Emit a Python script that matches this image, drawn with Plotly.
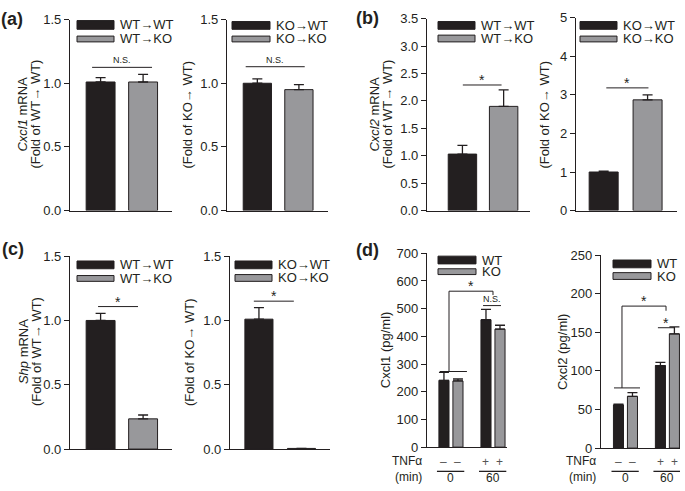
import plotly.graph_objects as go

W, H = 685, 491
FONT = "Liberation Sans, Arial, sans-serif"
DARK = "#231f20"
GRAY = "#98989b"

# ---------------- data ----------------
a1_groups = ["WT→WT", "WT→KO"]
a1_mean = [1.01, 1.01]
a1_err = [0.035, 0.06]

a2_groups = ["KO→WT", "KO→KO"]
a2_mean = [1.0, 0.95]
a2_err = [0.035, 0.04]

b1_groups = ["WT→WT", "WT→KO"]
b1_mean = [1.03, 1.9]
b1_err = [0.16, 0.3]

b2_groups = ["KO→WT", "KO→KO"]
b2_mean = [1.0, 2.87]
b2_err = [0.02, 0.13]

c1_groups = ["WT→WT", "WT→KO"]
c1_mean = [1.0, 0.235]
c1_err = [0.055, 0.03]

c2_groups = ["KO→WT", "KO→KO"]
c2_mean = [1.01, 0.005]
c2_err = [0.09, 0.0]

d_series = ["WT", "KO"]
d_times = ["0", "60"]
d_tnf = ["–", "+"]
d1_wt_mean = [241, 460]
d1_wt_err = [29, 37]
d1_ko_mean = [239, 426]
d1_ko_err = [7, 14]
d2_wt_mean = [56, 107]
d2_wt_err = [1, 4]
d2_ko_mean = [67, 148]
d2_ko_err = [5, 9]

# significance line heights (data units)
a1_sig = 1.125
a2_sig = 1.13
b1_sig = 2.29
b2_sig = 3.18
c1_sig = 1.108
c2_sig = 1.15
d1_bracket = [273, 563, 549]   # low line, top line, right drop
d1_ns = 511
d2_bracket = [78, 184, 178]
d2_sig = 156

# ---------------- layout helpers ----------------
def fx(p):
    return p / W

def fy(p):
    return 1 - p / H

fig = go.Figure()
shapes = []
annos = []

panels = {
    1: dict(x=(70, 172), y=(13, 210), xr=[-0.72, 1.68], yr=[0, 1.5], dt=0.5, tf=".1f"),
    2: dict(x=(227, 328), y=(13, 210), xr=[-0.73, 1.70], yr=[0, 1.5], dt=0.5, tf=".1f"),
    3: dict(x=(427, 530), y=(12, 210), xr=[-0.86, 1.64], yr=[0, 3.5], dt=0.5, tf=".1f"),
    4: dict(x=(576, 677), y=(11, 210), xr=[-0.63, 1.67], yr=[0, 5], dt=1, tf="d"),
    5: dict(x=(70, 172), y=(257, 456), xr=[-0.72, 1.68], yr=[0, 1.5], dt=0.5, tf=".1f"),
    6: dict(x=(230, 330), y=(257, 456), xr=[-0.68, 1.67], yr=[0, 1.5], dt=0.5, tf=".1f"),
    7: dict(x=(427, 507), y=(254, 454), xr=[-1.21, 4.5], yr=[0, 700], dt=100, tf="d"),
    8: dict(x=(601, 680), y=(256, 455), xr=[-1.25, 4.4], yr=[0, 250], dt=50, tf="d"),
}

for i, p in panels.items():
    sx = "" if i == 1 else str(i)
    fig.layout["xaxis" + sx] = dict(
        domain=[fx(p["x"][0]), fx(p["x"][1])], range=p["xr"], anchor="y" + sx,
        showline=True, linecolor=DARK, linewidth=1.3, showgrid=False,
        zeroline=False, showticklabels=False, ticks="", fixedrange=True)
    fig.layout["yaxis" + sx] = dict(
        domain=[fy(p["y"][1]), fy(p["y"][0])], range=p["yr"], anchor="x" + sx,
        showline=True, linecolor=DARK, linewidth=1.3, showgrid=False,
        zeroline=False, ticks="outside", ticklen=5, tickwidth=1.3, tickcolor=DARK,
        dtick=p["dt"], tick0=0, tickformat=p["tf"],
        tickfont=dict(family=FONT, size=13, color=DARK), fixedrange=True)


def err_cfg(vals):
    return dict(type="data", symmetric=False, array=vals,
                arrayminus=[0] * len(vals), color=DARK, thickness=1.3, width=5)


def two_bar(i, groups, mean, err, width):
    sx = "" if i == 1 else str(i)
    fig.add_trace(go.Bar(
        x=list(range(len(groups))), y=mean, width=width,
        marker=dict(color=[DARK, GRAY], line=dict(color=DARK, width=1)),
        error_y=err_cfg(err), xaxis="x" + sx, yaxis="y" + sx,
        showlegend=False, name=" / ".join(groups)))


two_bar(1, a1_groups, a1_mean, a1_err, 0.68)
two_bar(2, a2_groups, a2_mean, a2_err, 0.68)
two_bar(3, b1_groups, b1_mean, b1_err, 0.69)
two_bar(4, b2_groups, b2_mean, b2_err, 0.66)
two_bar(5, c1_groups, c1_mean, c1_err, 0.68)
two_bar(6, c2_groups, c2_mean, c2_err, 0.66)


def grouped(i, wt_m, wt_e, ko_m, ko_e):
    sx = str(i)
    xs_wt = [g * 3 for g in range(len(d_times))]
    xs_ko = [g * 3 + 1 for g in range(len(d_times))]
    for xs, m, e, c, nm in [(xs_wt, wt_m, wt_e, DARK, d_series[0]),
                            (xs_ko, ko_m, ko_e, GRAY, d_series[1])]:
        fig.add_trace(go.Bar(
            x=xs, y=m, width=0.72, name=nm,
            marker=dict(color=c, line=dict(color=DARK, width=1)),
            error_y=err_cfg(e), xaxis="x" + sx, yaxis="y" + sx, showlegend=False))


grouped(7, d1_wt_mean, d1_wt_err, d1_ko_mean, d1_ko_err)
grouped(8, d2_wt_mean, d2_wt_err, d2_ko_mean, d2_ko_err)


def txt(xref, yref, x, y, text, size, **kw):
    d = dict(xref=xref, yref=yref, x=x, y=y, text=text, showarrow=False,
             xanchor="center", yanchor="middle",
             font=dict(family=FONT, size=size, color=kw.pop("color", DARK)))
    d.update(kw)
    annos.append(d)


# ---------------- significance marks ----------------
def hline(i, x0, x1, y):
    sx = "" if i == 1 else str(i)
    shapes.append(dict(type="line", xref="x" + sx, yref="y" + sx, x0=x0, x1=x1,
                       y0=y, y1=y, line=dict(color=DARK, width=1)))


def mark(i, x, y, text, size, yshift):
    sx = "" if i == 1 else str(i)
    txt("x" + sx, "y" + sx, x, y, text, size, yshift=yshift)


hline(1, -0.2, 1.21, a1_sig); mark(1, 0.5, a1_sig, "N.S.", 9, 7)
hline(2, -0.28, 1.14, a2_sig); mark(2, 0.43, a2_sig, "N.S.", 9, 7)
hline(3, 0.01, 0.95, b1_sig); mark(3, 0.48, b1_sig, "*", 14, 5)
hline(4, 0.06, 1.02, b2_sig); mark(4, 0.54, b2_sig, "*", 14, 5)
hline(5, -0.06, 0.88, c1_sig); mark(5, 0.41, c1_sig, "*", 14, 5)
hline(6, -0.12, 0.82, c2_sig); mark(6, 0.35, c2_sig, "*", 14, 5)

hline(7, -0.29, 1.64, d1_bracket[0])
shapes.append(dict(type="path", xref="x7", yref="y7",
                   path=f"M 0.36 {d1_bracket[0]} L 0.36 {d1_bracket[1]} L 3.5 {d1_bracket[1]} L 3.5 {d1_bracket[2]}",
                   line=dict(color=DARK, width=1)))
mark(7, 1.93, d1_bracket[1], "*", 14, 5)
hline(7, 2.79, 4.07, d1_ns); mark(7, 3.43, d1_ns, "N.S.", 9, 7)

hline(8, -0.32, 1.54, d2_bracket[0])
shapes.append(dict(type="path", xref="x8", yref="y8",
                   path=f"M 0.25 {d2_bracket[0]} L 0.25 {d2_bracket[1]} L 3.4 {d2_bracket[1]} L 3.4 {d2_bracket[2]}",
                   line=dict(color=DARK, width=1)))
mark(8, 1.8, d2_bracket[1], "*", 14, 5)
hline(8, 2.82, 4.04, d2_sig); mark(8, 3.43, d2_sig, "*", 14, 5)

# TNFα / time rows for panel d
for i, tx in {7: 424, 8: 598}.items():
    sx = str(i)
    txt("paper", "paper", fx(tx), fy(468), "TNFα", 12, xanchor="right")
    txt("paper", "paper", fx(tx), fy(485), "(min)", 12, xanchor="right")
    for g, t in enumerate(d_times):
        for k in range(2):
            txt("x" + sx, "paper", g * 3 + k, fy(469), d_tnf[g], 12, color="#555")
        shapes.append(dict(type="line", xref="x" + sx, yref="paper",
                           x0=g * 3 - 0.5, x1=g * 3 + 1.45, y0=fy(479), y1=fy(479),
                           line=dict(color=DARK, width=1.3)))
        txt("x" + sx, "paper", g * 3 + 0.5, fy(486), t, 12)

# ---------------- legends (swatches + labels) ----------------
legends = [
    (77, 114, (14, 23), (30, 36), 118, a1_groups),
    (232, 270, (15, 23), (30, 36), 274, a2_groups),
    (438, 475, (15, 23), (29, 36), 479, b1_groups),
    (580, 617, (15, 23), (30, 36), 621, b2_groups),
    (77, 114, (262, 270), (277, 283), 118, c1_groups),
    (235, 272, (262, 270), (276, 283), 276, c2_groups),
    (438, 476, (257, 265), (270, 276), 480, d_series),
    (613, 651, (261, 269), (274, 281), 655, d_series),
]
for x0, x1, bk, gr, tx, labels in legends:
    for (t, b), col, lab in [(bk, DARK, labels[0]), (gr, GRAY, labels[1])]:
        shapes.append(dict(type="rect", xref="paper", yref="paper",
                           x0=fx(x0), x1=fx(x1), y0=fy(b), y1=fy(t),
                           fillcolor=col, line=dict(color=DARK, width=1)))
        txt("paper", "paper", fx(tx), fy((t + b) / 2), lab, 13, xanchor="left")

# ---------------- axis titles ----------------
titles = [
    (23, 111, "<i>Cxcl1</i> mRNA"), (36, 111, "(Fold of WT→ WT)"),
    (188, 111, "(Fold of KO→ WT)"),
    (375, 111, "<i>Cxcl2</i> mRNA"), (388, 111, "(Fold of WT→ WT)"),
    (545, 111, "(Fold of KO→ WT)"),
    (23, 356, "<i>Shp</i> mRNA"), (36, 356, "(Fold of WT→ WT)"),
    (189, 356, "(Fold of KO→ WT)"),
    (385, 354, "Cxcl1 (pg/ml)"),
    (562, 356, "Cxcl2 (pg/ml)"),
]
for x, y, t in titles:
    txt("paper", "paper", fx(x), fy(y), t, 13, textangle=-90)

for x, y, t in [(12, 12, "(a)"), (367, 11, "(b)"), (13, 250, "(c)"), (367, 251, "(d)")]:
    txt("paper", "paper", fx(x), fy(y), f"<b>{t}</b>", 18)

fig.update_layout(
    width=W, height=H, autosize=False,
    margin=dict(l=0, r=0, t=0, b=0),
    paper_bgcolor="white", plot_bgcolor="white",
    shapes=shapes, annotations=annos, showlegend=False,
    barmode="overlay",
)

fig.write_html("out.html", config={"displayModeBar": False},
               post_script="document.body.style.margin='0';document.body.style.overflow='hidden';")
